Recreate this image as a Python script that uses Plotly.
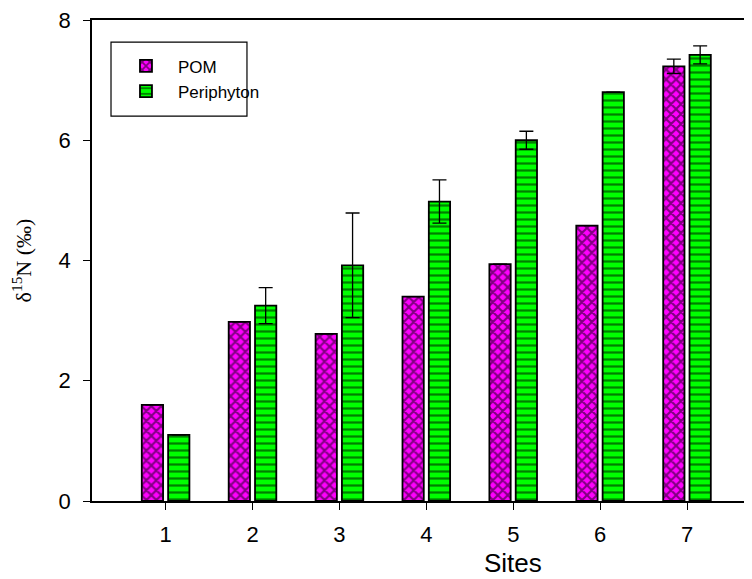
import plotly.graph_objects as go

sites = [1, 2, 3, 4, 5, 6, 7]
pom = [1.60, 2.98, 2.78, 3.40, 3.94, 4.58, 7.23]
pom_err = [0.0, 0.0, 0.0, 0.0, 0.0, 0.0, 0.12]
peri = [1.10, 3.25, 3.92, 4.98, 6.00, 6.80, 7.42]
peri_err = [0.0, 0.30, 0.87, 0.36, 0.15, 0.0, 0.15]
tick_labels = ["1", "2", "3", "4", "5", "6", "7"]

fig = go.Figure()
fig.add_trace(go.Bar(
    x=sites, y=pom, name="POM", width=0.245, offset=-0.275,
    marker=dict(color="#ff00ff", line=dict(color="black", width=1.8),
                pattern=dict(shape="x", fgcolor="black", bgcolor="#ff00ff", size=7, solidity=0.5)),
    error_y=dict(type="data", array=pom_err, visible=True, color="black", thickness=1.3, width=7),
))
fig.add_trace(go.Bar(
    x=sites, y=peri, name="Periphyton", width=0.245, offset=0.028,
    marker=dict(color="#00ff00", line=dict(color="black", width=1.8),
                pattern=dict(shape="-", fgcolor="black", bgcolor="#00ff00", size=7, solidity=0.32)),
    error_y=dict(type="data", array=peri_err, visible=True, color="black", thickness=1.3, width=7),
))

# legend frame
fig.add_shape(type="rect", xref="paper", yref="paper",
              x0=0.0288, x1=0.2348, y0=0.800, y1=0.954,
              line=dict(color="black", width=1.2), fillcolor="rgba(0,0,0,0)", layer="above")

# x-axis title (the original plot area is cropped on the right)
fig.add_annotation(text="Sites", xref="paper", yref="paper", x=0.638, y=-0.128,
                   xanchor="center", yanchor="middle", showarrow=False,
                   font=dict(size=26, family="Arial, Liberation Sans", color="black"))

fig.update_layout(
    width=744, height=571,
    margin=dict(l=84, r=0, t=12, b=78, pad=0),
    plot_bgcolor="white", paper_bgcolor="white",
    font=dict(family="Arial, Liberation Sans", size=22, color="black"),
    showlegend=True,
    legend=dict(x=0.0333, y=0.941, xanchor="left", yanchor="top",
                borderwidth=0, bgcolor="rgba(0,0,0,0)",
                font=dict(size=17), traceorder="normal",
                itemwidth=54, tracegroupgap=0),
    xaxis=dict(range=[0.152, 7.747], tickvals=sites, ticktext=tick_labels,
               showline=True, linecolor="black", linewidth=1.5, mirror=True,
               ticks="outside", ticklen=7, tickcolor="black", showgrid=False, zeroline=False,
               ticklabelstandoff=6),
    yaxis=dict(range=[0, 8], tickvals=[0, 2, 4, 6, 8],
               showline=True, linecolor="black", linewidth=1.5,
               ticks="outside", ticklen=7, tickcolor="black", showgrid=False, zeroline=False,
               ticklabelstandoff=8, ticklabeloverflow="allow",
               title=dict(text="δ<sup>15</sup>N (‰)", font=dict(family="Liberation Serif, Times New Roman", size=22), standoff=22)),
)

fig.write_html("out.html")
